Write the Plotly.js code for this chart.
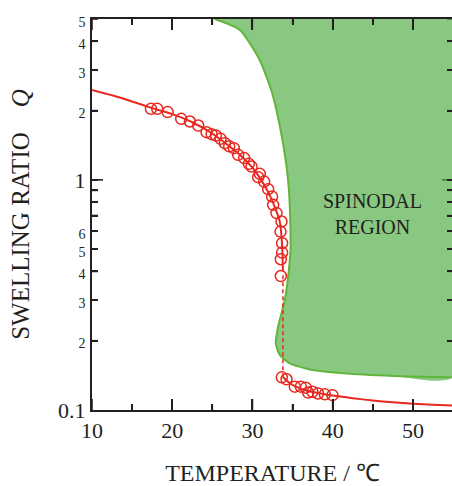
<!DOCTYPE html>
<html>
<head>
<meta charset="utf-8">
<script src="https://cdn.plot.ly/plotly-3.0.1.min.js"></script>
<style>
html,body{margin:0;padding:0;overflow:hidden;background:#fff;}
#chart{width:456px;height:486px;}
</style>
</head>
<body>
<div id="chart"></div>
<script>
// ---- data ----
// measured swelling ratio, swollen branch
const tempSwollen = [17.35,18.13,19.43,21.12,22.20,23.24,24.28,24.91,25.44,26.03,26.56,27.10,27.68,28.22,28.97,29.55,29.89,30.71,30.92,31.46,31.96,32.45,32.58,33.00,33.62,33.50,33.70,33.70,33.54,33.54];
const qSwollen    = [2.035,2.035,1.970,1.842,1.793,1.722,1.612,1.580,1.558,1.508,1.444,1.398,1.373,1.285,1.243,1.174,1.142,1.027,1.062,0.983,0.911,0.846,0.779,0.717,0.659,0.596,0.531,0.483,0.452,0.382];
// measured swelling ratio, collapsed branch
const tempCollapsed = [33.66,34.25,35.28,36.03,36.65,36.94,37.48,38.18,39.02,39.97];
const qCollapsed    = [0.1387,0.136,0.1263,0.1263,0.125,0.119,0.120,0.118,0.117,0.116];
// theoretical curve, swollen branch
const tempFitUpper = [10,12.5,15,17.5,20,22.5,25,27,28.5,30,31,32,32.8,33.4,33.7,33.8];
const qFitUpper    = [2.46,2.33,2.19,2.05,1.93,1.78,1.59,1.41,1.28,1.13,1.01,0.88,0.76,0.66,0.52,0.40];
// theoretical curve, collapsed branch
const tempFitLower = [33.8,34.5,35.5,37,38.5,40,42.5,45,47.5,50,52.5,55];
const qFitLower    = [0.139,0.132,0.126,0.121,0.118,0.1155,0.1125,0.110,0.108,0.1065,0.1055,0.1045];
// discontinuous transition (dashed)
const tempJump = [33.8,33.8];
const qJump    = [0.385,0.139];
// spinodal boundary
const tempSpinodal = [25.3,28.4,30.9,32.4,33.4,34.2,34.55,34.7,34.75,34.45,34.03,33.2,32.91,33.41,34.66,37.15,41.3,47.5,55];
const qSpinodal    = [5,4.49,3.32,2.42,1.72,1.18,0.9,0.69,0.5,0.38,0.30,0.23,0.195,0.1734,0.1596,0.150,0.1444,0.1406,0.1387];
const spinodalCorner = {temp:55, q:5};
// axis ticks
const xMajorTicks = [10,20,30,40,50];
const xMinorTicks = [15,25,35,45,55];
const yMajorTicks = [1];
const yMinorTicks = [0.2,0.3,0.4,0.5,0.6,0.7,0.8,0.9,2,3,4,5];
const yUnlabeledTicks = [0.7,0.8,0.9];
const yLabelTicks = [0.1,0.2,0.3,0.4,0.5,0.6,1,2,3,4,5];
const yLabelText  = ['0.1','2','3','4','5','6','1','2','3','4','5'];
const regionLabel = 'SPINODAL<br>REGION';

const RED = '#e8281f';
const INK = '#231f20';
const FONT = '"Liberation Serif", "Times New Roman", Times, serif';
const xRange = [10, 55];
const yRange = [-1, Math.log10(5)];
const W = 456, H = 486, M = {l: 92, r: 3, t: 19, b: 76};
const PLOT_W = W - M.l - M.r, PLOT_H = H - M.t - M.b;
const LONG = 11, SHORT = 6, TW = 1.6;

const yLabelHtml = yLabelText.map((t, i) =>
  (i === 0 || yLabelTicks[i] === 1) ? t : '<span style="font-size:14px;fill:#231f20;color:#231f20">' + t + '</span>');

// inward tick marks on all four sides, built from the tick arrays and placed through the axes' scales
const pxPerDeg = PLOT_W / (xRange[1] - xRange[0]);
const pxPerDec = PLOT_H / (yRange[1] - yRange[0]);
const qBottom = Math.pow(10, yRange[0]), qTop = Math.pow(10, yRange[1]);
function tickTraces(atFar) {
  const out = [];
  const seg = (x, y) => out.push({x: x, y: y, type: 'scatter', mode: 'lines',
    line: {color: INK, width: TW}, hoverinfo: 'skip', showlegend: false});
  const addX = (vals, len) => vals.forEach(v => seg([v, v],
    atFar ? [qTop, qTop * Math.pow(10, -len / pxPerDec)] : [qBottom, qBottom * Math.pow(10, len / pxPerDec)]));
  const addY = (vals, len) => vals.forEach(v => seg(
    atFar ? [xRange[1], xRange[1] - len / pxPerDeg] : [xRange[0], xRange[0] + len / pxPerDeg], [v, v]));
  addX(xMajorTicks, LONG); addX(xMinorTicks, SHORT);
  addY(yMajorTicks, LONG); addY(yMinorTicks, SHORT);
  return out;
}

const traces = [].concat(
  tickTraces(true),   // top & right ticks, beneath the green fill which tints them
  [
    { // spinodal fill
      x: tempSpinodal.concat([spinodalCorner.temp, tempSpinodal[0]]),
      y: qSpinodal.concat([spinodalCorner.q, qSpinodal[0]]),
      type: 'scatter', mode: 'lines', fill: 'toself', fillcolor: 'rgba(85,176,74,0.7)',
      line: {width: 0, shape: 'spline', smoothing: 0.6}, hoverinfo: 'skip'
    },
    { // spinodal boundary
      x: tempSpinodal, y: qSpinodal, type: 'scatter', mode: 'lines',
      line: {color: '#62b53c', width: 2, shape: 'spline', smoothing: 0.6}
    }
  ],
  tickTraces(false),  // bottom & left ticks
  [
    { x: tempFitUpper, y: qFitUpper, type: 'scatter', mode: 'lines', line: {color: RED, width: 2, shape: 'spline', smoothing: 0.6} },
    { x: tempFitLower, y: qFitLower, type: 'scatter', mode: 'lines', line: {color: RED, width: 2, shape: 'spline', smoothing: 0.6} },
    { x: tempJump, y: qJump, type: 'scatter', mode: 'lines', line: {color: RED, width: 1.5, dash: '4px,3px'} },
    { x: tempSwollen, y: qSwollen, type: 'scatter', mode: 'markers',
      marker: {symbol: 'circle-open', size: 11, color: RED, line: {color: RED, width: 1.5}} },
    { x: tempCollapsed, y: qCollapsed, type: 'scatter', mode: 'markers',
      marker: {symbol: 'circle-open', size: 11, color: RED, line: {color: RED, width: 1.5}} }
  ]
);

const layout = {
  width: W, height: H,
  margin: {l: M.l, r: M.r, t: M.t, b: M.b},
  paper_bgcolor: '#ffffff', plot_bgcolor: '#ffffff',
  showlegend: false,
  font: {family: FONT, color: INK},
  xaxis: {
    range: xRange, showgrid: false, zeroline: false,
    tickmode: 'array', tickvals: xMajorTicks, ticktext: xMajorTicks.map(String),
    ticks: 'inside', ticklen: LONG, tickwidth: 1.5, tickcolor: INK,
    minor: {tickmode: 'array', tickvals: xMinorTicks, ticks: 'inside', ticklen: SHORT, tickwidth: 1.5, tickcolor: INK, showgrid: false},
    showline: true, linewidth: 2, linecolor: INK, mirror: 'ticks',
    tickfont: {size: 22, family: FONT, color: INK},
    title: {text: 'TEMPERATURE / ℃', font: {size: 24, family: FONT, color: INK}, standoff: 24}
  },
  yaxis: {
    type: 'log', range: yRange, showgrid: false, zeroline: false,
    tickmode: 'array', tickvals: yLabelTicks, ticktext: yLabelHtml,
    ticks: 'inside', ticklen: SHORT, tickwidth: 1.5, tickcolor: INK,
    minor: {tickmode: 'array', tickvals: yUnlabeledTicks, ticks: 'inside', ticklen: SHORT, tickwidth: 1.5, tickcolor: INK, showgrid: false},
    showline: true, linewidth: 2, linecolor: INK, mirror: 'ticks',
    tickfont: {size: 22, family: FONT, color: INK},
    title: {text: 'SWELLING RATIO\u00a0\u00a0\u00a0\u00a0<i>Q</i>', font: {size: 25, family: FONT, color: INK}, standoff: 21}
  },
  annotations: [{
    text: regionLabel, xref: 'x', yref: 'y', x: 45, y: Math.log10(0.71),
    showarrow: false, font: {size: 20, family: FONT, color: INK}, align: 'center'
  }]
};

Plotly.newPlot('chart', traces, layout, {displayModeBar: false, responsive: false});
</script>
</body>
</html>
